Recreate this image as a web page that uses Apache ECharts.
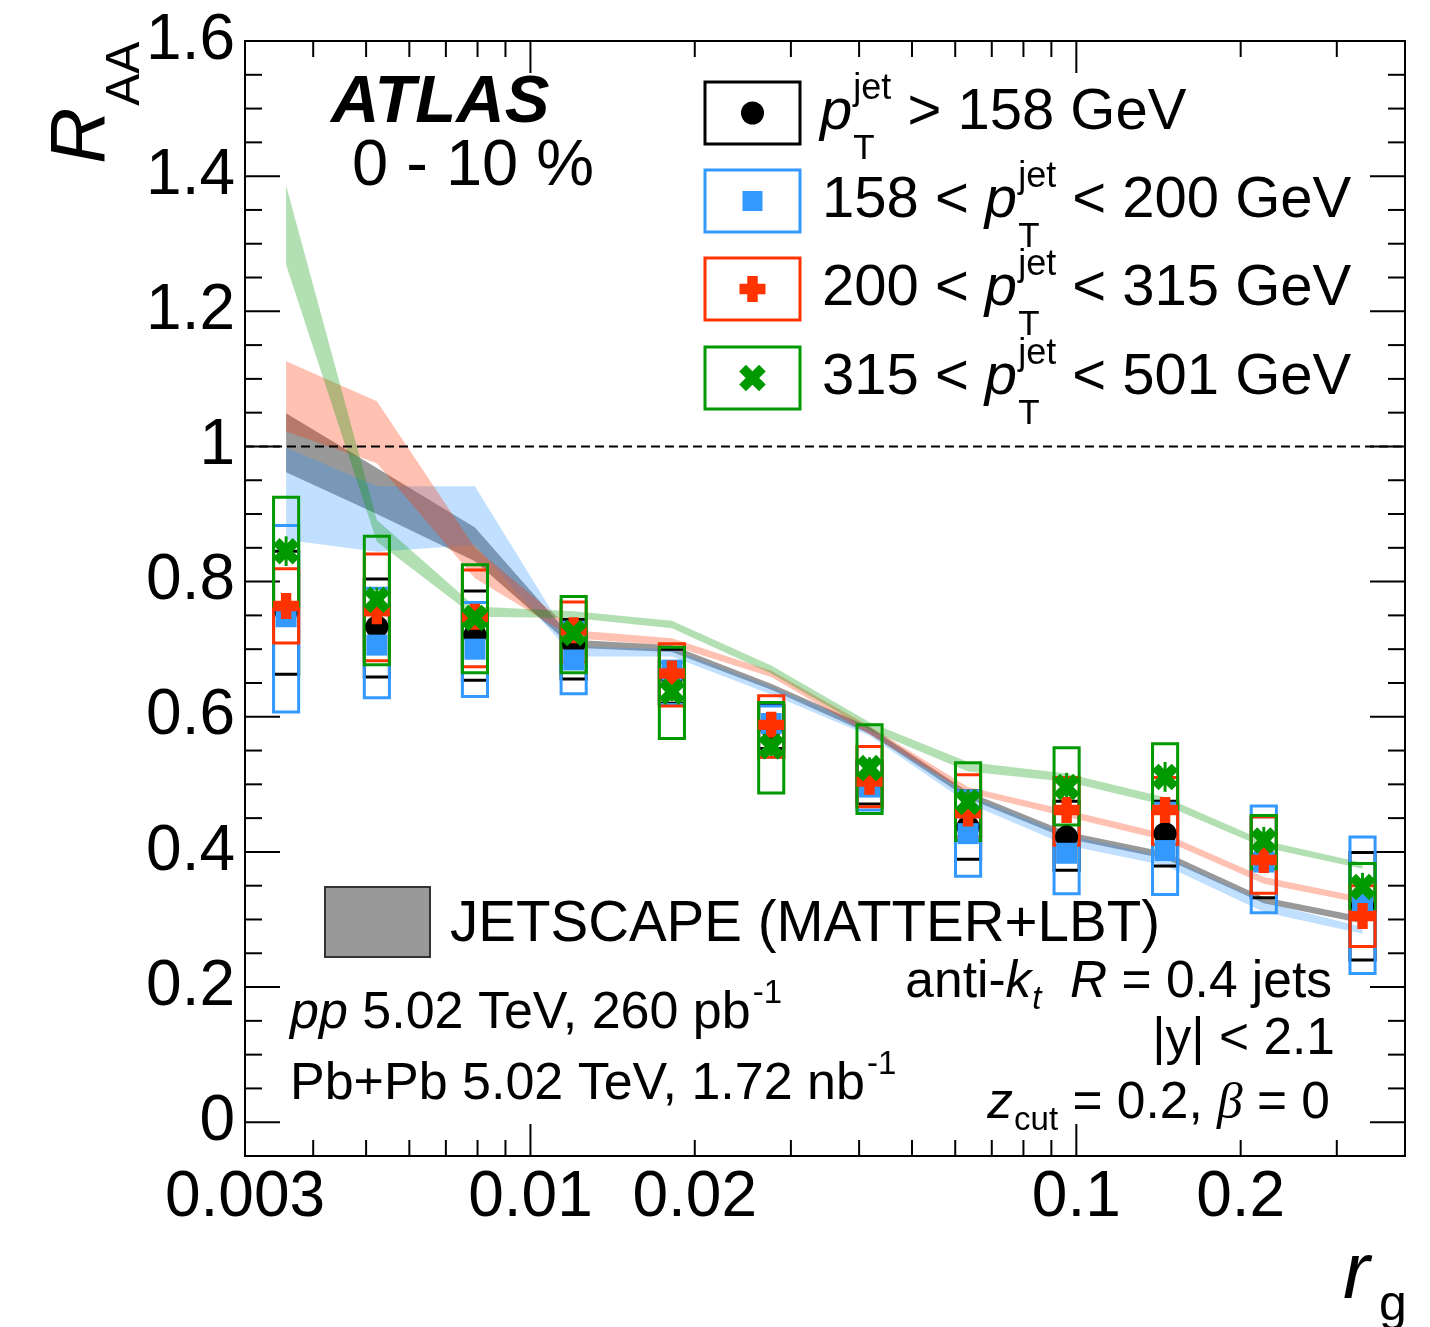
<!DOCTYPE html>
<html>
<head>
<meta charset="utf-8">
<script src="https://cdn.jsdelivr.net/npm/echarts@6/dist/echarts.min.js"></script>
<style>
  html, body { margin: 0; padding: 0; background: #fff; }
  #chart { width: 1430px; height: 1327px; }
</style>
</head>
<body>
<div id="chart"></div>
<script>
// ---- r_g bin centres ----
const rg = [0.003568, 0.005232, 0.007913, 0.01200, 0.01816, 0.02761, 0.04180, 0.06334, 0.09598, 0.1454, 0.2205, 0.3344];

// ---- R_AA, pT > 158 GeV ----
const raaAll    = [0.755, 0.733, 0.721, 0.707, 0.660, 0.585, 0.502, 0.437, 0.422, 0.427, 0.390, 0.320];
const sysAllLo  = [0.663, 0.659, 0.654, 0.656, 0.620, 0.553, 0.471, 0.389, 0.373, 0.379, 0.332, 0.240];
const sysAllHi  = [0.845, 0.804, 0.786, 0.744, 0.700, 0.617, 0.535, 0.490, 0.475, 0.475, 0.452, 0.399];
const statAll   = [0.010, 0.008, 0.007, 0.006, 0.006, 0.006, 0.007, 0.008, 0.008, 0.010, 0.012, 0.015];

// ---- R_AA, 158 < pT < 200 GeV ----
const raaLow    = [0.748, 0.706, 0.700, 0.684, 0.669, 0.590, 0.496, 0.427, 0.398, 0.402, 0.385, 0.326];
const sysLowLo  = [0.607, 0.628, 0.630, 0.634, 0.618, 0.540, 0.462, 0.364, 0.338, 0.337, 0.310, 0.220];
const sysLowHi  = [0.883, 0.790, 0.769, 0.740, 0.680, 0.616, 0.535, 0.490, 0.465, 0.472, 0.468, 0.422];
const statLow   = [0.012, 0.010, 0.010, 0.008, 0.008, 0.008, 0.009, 0.010, 0.012, 0.013, 0.015, 0.018];

// ---- R_AA, 200 < pT < 315 GeV ----
const raaMid    = [0.764, 0.756, 0.748, 0.728, 0.664, 0.588, 0.504, 0.457, 0.462, 0.462, 0.388, 0.305];
const sysMidLo  = [0.709, 0.683, 0.674, 0.681, 0.616, 0.540, 0.467, 0.422, 0.410, 0.411, 0.339, 0.260];
const sysMidHi  = [0.819, 0.841, 0.817, 0.770, 0.708, 0.631, 0.556, 0.514, 0.510, 0.510, 0.452, 0.350];
const statMid   = [0.012, 0.010, 0.009, 0.008, 0.008, 0.008, 0.009, 0.010, 0.012, 0.014, 0.016, 0.018];

// ---- R_AA, 315 < pT < 501 GeV ----
const raaHigh   = [0.845, 0.773, 0.746, 0.724, 0.637, 0.556, 0.524, 0.474, 0.496, 0.511, 0.417, 0.348];
const sysHighLo = [0.764, 0.677, 0.665, 0.665, 0.568, 0.487, 0.457, 0.417, 0.440, 0.464, 0.375, 0.316];
const sysHighHi = [0.925, 0.867, 0.825, 0.778, 0.703, 0.621, 0.588, 0.532, 0.554, 0.560, 0.454, 0.383];
const statHigh  = [0.022, 0.018, 0.016, 0.014, 0.014, 0.014, 0.016, 0.018, 0.021, 0.022, 0.020, 0.021];

// ---- JETSCAPE (MATTER+LBT) bands ----
const jsAllLo   = [0.962, 0.900, 0.830, 0.702, 0.696, 0.640, 0.575, 0.479, 0.420, 0.390, 0.324, 0.294];
const jsAllHi   = [1.049, 0.968, 0.880, 0.714, 0.706, 0.649, 0.585, 0.489, 0.430, 0.400, 0.333, 0.304];
const jsLowLo   = [0.862, 0.844, 0.854, 0.689, 0.689, 0.633, 0.572, 0.472, 0.410, 0.380, 0.311, 0.279];
const jsLowHi   = [0.998, 0.941, 0.941, 0.704, 0.700, 0.644, 0.584, 0.484, 0.425, 0.393, 0.326, 0.289];
const jsMidLo   = [1.022, 0.975, 0.805, 0.716, 0.705, 0.659, 0.574, 0.487, 0.452, 0.417, 0.353, 0.324];
const jsMidHi   = [1.126, 1.067, 0.850, 0.728, 0.716, 0.668, 0.586, 0.496, 0.462, 0.427, 0.363, 0.333];
const jsHighLo  = [1.269, 0.859, 0.748, 0.746, 0.731, 0.664, 0.580, 0.519, 0.504, 0.469, 0.407, 0.375];
const jsHighHi  = [1.386, 0.891, 0.763, 0.756, 0.742, 0.676, 0.592, 0.533, 0.516, 0.481, 0.417, 0.384];

// ---- axes ----
const X_MIN = 0.003, X_MAX = 0.4, Y_MIN = -0.05, Y_MAX = 1.6;
const xLabelTicks = [0.003, 0.01, 0.02, 0.1, 0.2];
const xMajorTicks = [0.01, 0.1];
const xMinorTicks = [0.004, 0.005, 0.006, 0.007, 0.008, 0.009, 0.02, 0.03, 0.04, 0.05, 0.06, 0.07, 0.08, 0.09, 0.2, 0.3];
const yLabelTicks = [0, 0.2, 0.4, 0.6, 0.8, 1, 1.2, 1.4, 1.6];
const yMinorTicks = [-0.05, 0.05, 0.1, 0.15, 0.25, 0.3, 0.35, 0.45, 0.5, 0.55, 0.65, 0.7, 0.75, 0.85, 0.9, 0.95,
                     1.05, 1.1, 1.15, 1.25, 1.3, 1.35, 1.45, 1.5, 1.55];

// ---- styling ----
const FONT = '"Liberation Sans", Helvetica, Arial, sans-serif';
const SERIF = '"Liberation Serif", "DejaVu Serif", serif';
const C_BLACK = '#000000', C_BLUE = '#3399ff', C_RED = '#ff3300', C_GREEN = '#009900';
const BOX_HALF_DEC = 0.023;   // half width of systematic boxes, in decades of r_g
const PLUS_PATH = 'path://M3,0H7V3H10V7H7V10H3V7H0V3H3Z';
const CROSS_PATH = 'path://M3.3,0H6.7V3.3H10V6.7H6.7V10H3.3V6.7H0V3.3H3.3Z';

// ---------- series builders ----------
function bandSeries(lo, hi, fill) {
  return {
    type: 'custom', silent: true, animation: false,
    data: [[rg[0], lo[0]]],
    renderItem(params, api) {
      const pts = [];
      for (let i = 0; i < rg.length; i++) pts.push(api.coord([rg[i], hi[i]]));
      for (let i = rg.length - 1; i >= 0; i--) pts.push(api.coord([rg[i], lo[i]]));
      return { type: 'polygon', shape: { points: pts }, style: { fill: fill } };
    }
  };
}

function boxSeries(vals, lo, hi, stat, color) {
  return {
    type: 'custom', silent: true, animation: false,
    data: rg.map((x, i) => [x, vals[i], lo[i], hi[i], stat[i]]),
    encode: { x: 0, y: 1 },
    renderItem(params, api) {
      const x = api.value(0), v = api.value(1), l = api.value(2), h = api.value(3), s = api.value(4);
      const f = Math.pow(10, BOX_HALF_DEC);
      const a = api.coord([x / f, h]);
      const b = api.coord([x * f, l]);
      const c = api.coord([x, v]);
      const t = api.coord([x, v + s]);
      const d = api.coord([x, v - s]);
      return {
        type: 'group',
        children: [
          { type: 'rect', shape: { x: a[0], y: a[1], width: b[0] - a[0], height: b[1] - a[1] },
            style: { fill: 'none', stroke: color, lineWidth: 3 } },
          { type: 'line', shape: { x1: c[0], y1: t[1], x2: c[0], y2: d[1] },
            style: { stroke: color, lineWidth: 3 } }
        ]
      };
    }
  };
}

function pointSeries(name, vals, color, symbol, size, rotate) {
  return {
    name: name, type: 'scatter', silent: true, animation: false,
    data: rg.map((x, i) => [x, vals[i]]),
    symbol: symbol, symbolSize: size, symbolRotate: rotate || 0,
    itemStyle: { color: color, opacity: 1 }
  };
}

function textEl(text, x, y, font, align) {
  return {
    type: 'text', x: x, y: y,
    style: { text: text, font: font, fill: '#000',
             textAlign: align || 'left', align: align || 'left',
             textVerticalAlign: 'middle', verticalAlign: 'middle' }
  };
}

// frame ticks and tick labels on all four sides
const frameSeries = {
  type: 'custom', silent: true, animation: false,
  data: [[X_MIN, 0]],
  renderItem(params, api) {
    const cs = params.coordSys;
    const L = cs.x, R = cs.x + cs.width, T = cs.y, B = cs.y + cs.height;
    const ch = [];
    const seg = (x1, y1, x2, y2) => ch.push({ type: 'line', shape: { x1, y1, x2, y2 },
                                               style: { stroke: '#000', lineWidth: 2 } });
    yLabelTicks.forEach(v => { const y = api.coord([X_MIN, v])[1]; seg(L, y, L + 35, y); seg(R, y, R - 35, y); });
    yMinorTicks.forEach(v => { const y = api.coord([X_MIN, v])[1]; seg(L, y, L + 17, y); seg(R, y, R - 17, y); });
    xMajorTicks.forEach(v => { const x = api.coord([v, Y_MIN])[0]; seg(x, B, x, B - 32); seg(x, T, x, T + 32); });
    xMinorTicks.forEach(v => { const x = api.coord([v, Y_MIN])[0]; seg(x, B, x, B - 16); seg(x, T, x, T + 16); });
    xLabelTicks.forEach(v => ch.push(textEl(String(v), api.coord([v, Y_MIN])[0], B + 42, '64px ' + FONT, 'center')));
    yLabelTicks.forEach(v => ch.push(textEl(String(v), L - 10, api.coord([X_MIN, v])[1], '64px ' + FONT, 'right')));
    return { type: 'group', children: ch };
  }
};

// dashed reference line at R_AA = 1
const unitySeries = {
  type: 'custom', silent: true, animation: false,
  data: [[X_MIN, 1]],
  renderItem(params, api) {
    const a = api.coord([X_MIN, 1]), b = api.coord([X_MAX, 1]);
    return { type: 'line', shape: { x1: a[0], y1: a[1], x2: b[0], y2: b[1] },
             style: { stroke: '#000', lineWidth: 2, lineDash: [9, 5] } };
  }
};

// ---------- text with sub/superscripts ----------
const mctx = document.createElement('canvas').getContext('2d');
function fontOf(p) {
  return (p.italic ? 'italic ' : '') + (p.bold ? 'bold ' : '') + p.size + 'px ' + (p.family || FONT);
}
function richLine(x, y, parts, align) {
  let cursor = 0, lastStart = 0;
  const kids = [];
  parts.forEach(p => {
    const font = fontOf(p);
    mctx.font = font;
    const w = mctx.measureText(p.t).width;
    const start = p.stack ? lastStart : cursor + (p.gap || 0);
    kids.push(textEl(p.t, start, p.dy || 0, font, 'left'));
    lastStart = start;
    cursor = p.stack ? Math.max(cursor, start + w) : start + w;
  });
  const gx = align === 'right' ? x - cursor : x;
  return { type: 'group', x: gx, y: y, children: kids };
}

function ptLabel(pre, post, y) {
  const parts = [];
  if (pre) parts.push({ t: pre, size: 58 });
  parts.push({ t: 'p', size: 58, italic: true });
  parts.push({ t: 'jet', size: 36, dy: -24, gap: 1 });
  parts.push({ t: 'T', size: 35, dy: 36, stack: true });
  parts.push({ t: post, size: 58 });
  return richLine(pre ? 822 : 820, y, parts, 'left');
}

function plusPoints(cx, cy, size, thick, angle) {
  const s = size / 2, t = thick / 2;
  const raw = [[-t, -s], [t, -s], [t, -t], [s, -t], [s, t], [t, t], [t, s], [-t, s], [-t, t], [-s, t], [-s, -t], [-t, -t]];
  const c = Math.cos(angle), sn = Math.sin(angle);
  return raw.map(([px, py]) => [cx + px * c - py * sn, cy + px * sn + py * c]);
}

const legendRows = [113, 201, 289, 378];
const legendColors = [C_BLACK, C_BLUE, C_RED, C_GREEN];
const LX = 705, LW = 95, LH = 62, LMX = 752.5;

const graphics = [];
legendRows.forEach((y, i) => {
  graphics.push({ type: 'rect', shape: { x: LX, y: y - LH / 2, width: LW, height: LH },
                  style: { fill: 'none', stroke: legendColors[i], lineWidth: 3 } });
});
graphics.push({ type: 'circle', shape: { cx: LMX, cy: legendRows[0], r: 11.5 }, style: { fill: C_BLACK } });
graphics.push({ type: 'rect', shape: { x: LMX - 10, y: legendRows[1] - 10, width: 20, height: 20 }, style: { fill: C_BLUE } });
graphics.push({ type: 'polygon', shape: { points: plusPoints(LMX, legendRows[2], 26, 10.5, 0) }, style: { fill: C_RED } });
graphics.push({ type: 'polygon', shape: { points: plusPoints(LMX, legendRows[3], 28, 9.5, Math.PI / 4) }, style: { fill: C_GREEN } });

graphics.push(ptLabel('', ' > 158 GeV', legendRows[0]));
graphics.push(ptLabel('158 < ', ' < 200 GeV', legendRows[1]));
graphics.push(ptLabel('200 < ', ' < 315 GeV', legendRows[2]));
graphics.push(ptLabel('315 < ', ' < 501 GeV', legendRows[3]));

// experiment label
graphics.push(richLine(331, 104, [{ t: 'ATLAS', size: 67, italic: true, bold: true }], 'left'));
graphics.push(richLine(352, 167, [{ t: '0 - 10 %', size: 65 }], 'left'));

// model legend
graphics.push({ type: 'rect', shape: { x: 325, y: 887, width: 105, height: 70 },
                style: { fill: 'rgba(0,0,0,0.4)', stroke: '#333', lineWidth: 2 } });
graphics.push(richLine(450, 925, [{ t: 'JETSCAPE (MATTER+LBT)', size: 56.5 }], 'left'));

// luminosity
graphics.push(richLine(290, 1014, [
  { t: 'pp', size: 52, italic: true },
  { t: ' 5.02 TeV, 260 pb', size: 52 },
  { t: '-1', size: 33, dy: -20, gap: 2 }
], 'left'));
graphics.push(richLine(290, 1085, [
  { t: 'Pb+Pb 5.02 TeV, 1.72 nb', size: 52 },
  { t: '-1', size: 33, dy: -20, gap: 2 }
], 'left'));

// selection
graphics.push(richLine(1332, 983, [
  { t: 'anti-', size: 51.5 },
  { t: 'k', size: 51.5, italic: true },
  { t: 't', size: 33, italic: true, dy: 17, gap: 1 },
  { t: '  ', size: 51.5 },
  { t: 'R', size: 51.5, italic: true },
  { t: ' = 0.4 jets', size: 51.5 }
], 'right'));
graphics.push(richLine(1335, 1040, [{ t: '|y| < 2.1', size: 51.5 }], 'right'));
graphics.push(richLine(1330, 1104, [
  { t: 'z', size: 51.5, italic: true },
  { t: 'cut', size: 33, dy: 17, gap: 1 },
  { t: ' = 0.2, ', size: 51.5 },
  { t: 'β', size: 51.5, italic: true, family: SERIF },
  { t: ' = 0', size: 51.5 }
], 'right'));

// axis titles
graphics.push(richLine(1343, 1276, [{ t: 'r', size: 80, italic: true }], 'left'));
graphics.push(richLine(1379, 1306, [{ t: 'g', size: 50 }], 'left'));
graphics.push({
  type: 'group', x: 82, y: 164, rotation: Math.PI / 2,
  children: [richLine(0, 0, [
    { t: 'R', size: 78, italic: true },
    { t: 'AA', size: 48, dy: 44, gap: 2 }
  ], 'left')]
});

// ---------- chart ----------
const chart = echarts.init(document.getElementById('chart'), null, { renderer: 'canvas' });
chart.setOption({
  animation: false,
  backgroundColor: '#ffffff',
  grid: { left: 245, top: 41, width: 1160, height: 1115, show: true, borderColor: '#000', borderWidth: 2,
          backgroundColor: 'transparent' },
  xAxis: { type: 'log', logBase: 10, min: X_MIN, max: X_MAX,
           axisLine: { show: false }, axisTick: { show: false }, axisLabel: { show: false }, splitLine: { show: false } },
  yAxis: { type: 'value', min: Y_MIN, max: Y_MAX,
           axisLine: { show: false }, axisTick: { show: false }, axisLabel: { show: false }, splitLine: { show: false } },
  series: [
    frameSeries,
    bandSeries(jsAllLo, jsAllHi, 'rgba(0,0,0,0.4)'),
    bandSeries(jsLowLo, jsLowHi, 'rgba(51,153,255,0.3)'),
    bandSeries(jsMidLo, jsMidHi, 'rgba(255,51,0,0.3)'),
    bandSeries(jsHighLo, jsHighHi, 'rgba(0,153,0,0.3)'),
    unitySeries,
    boxSeries(raaAll, sysAllLo, sysAllHi, statAll, C_BLACK),
    pointSeries('pT > 158 GeV', raaAll, C_BLACK, 'circle', 23),
    boxSeries(raaLow, sysLowLo, sysLowHi, statLow, C_BLUE),
    pointSeries('158 < pT < 200 GeV', raaLow, C_BLUE, 'rect', 21),
    boxSeries(raaMid, sysMidLo, sysMidHi, statMid, C_RED),
    pointSeries('200 < pT < 315 GeV', raaMid, C_RED, PLUS_PATH, 26),
    boxSeries(raaHigh, sysHighLo, sysHighHi, statHigh, C_GREEN),
    pointSeries('315 < pT < 501 GeV', raaHigh, C_GREEN, CROSS_PATH, 28, 45)
  ],
  graphic: { elements: graphics }
});
</script>
</body>
</html>
